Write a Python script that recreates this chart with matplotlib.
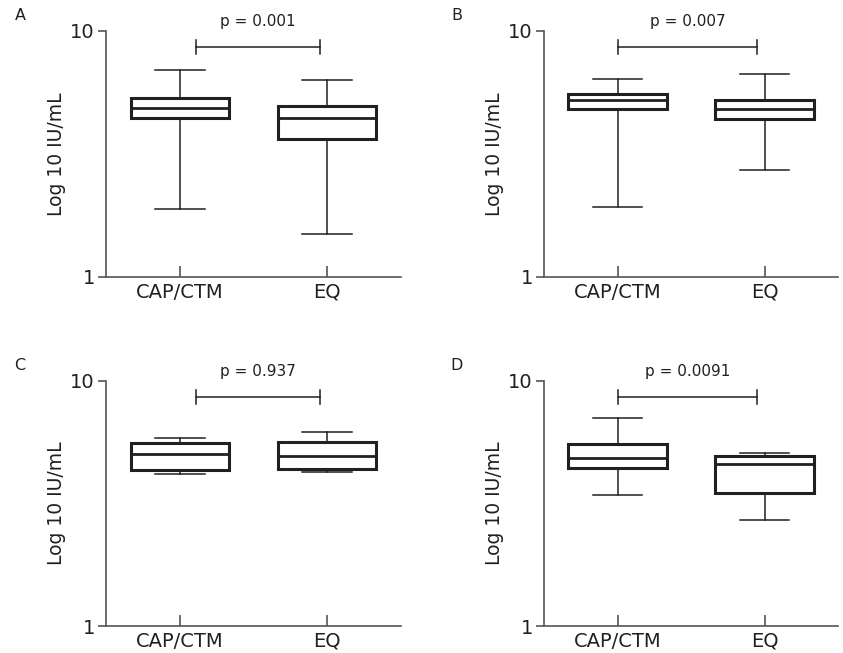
import matplotlib
matplotlib.use("Agg")
import matplotlib.pyplot as plt

matplotlib.rcParams['font.family'] = 'DejaVu Sans'

GROUPS = ['CAP/CTM', 'EQ']
PANELS = ['A', 'B', 'C', 'D']
P_TEXT = ['p = 0.001', 'p = 0.007', 'p = 0.937', 'p = 0.0091']

# whisker low, Q1, median, Q3, whisker high (IU/mL, log axis)
CAP_STATS = [
    [1.89, 4.42, 4.86, 5.34, 6.94],
    [1.93, 4.80, 5.23, 5.54, 6.36],
    [4.17, 4.32, 5.05, 5.58, 5.85],
    [3.43, 4.43, 4.85, 5.55, 7.06],
]
EQ_STATS = [
    [1.49, 3.65, 4.43, 4.96, 6.32],
    [2.72, 4.40, 4.83, 5.24, 6.69],
    [4.25, 4.37, 4.96, 5.64, 6.19],
    [2.72, 3.48, 4.57, 4.96, 5.10],
]
# significance bar x start / end, bar level
SIG_X = [(0.11, 0.95), (0.0, 0.95), (0.11, 0.95), (0.0, 0.95)]
SIG_Y = 8.6

DARK = '#231f20'
AXC = '#555555'

W, H = 843, 653
fig = plt.figure(figsize=(W / 100, H / 100), dpi=100)

# axes boxes in pixels: left, right, top, bottom
boxes = [(106, 401, 31, 277), (544, 838, 31, 277),
         (106, 401, 381, 626), (544, 838, 381, 626)]
label_pos = [(20, 16), (457, 16), (20, 366), (457, 366)]


def to_stats(v):
    lo, q1, med, q3, hi = v
    return dict(whislo=lo, q1=q1, med=med, q3=q3, whishi=hi, fliers=[])


for i, (l, r, t, b) in enumerate(boxes):
    ax = fig.add_axes([l / W, 1 - b / H, (r - l) / W, (b - t) / H])
    stats = [to_stats(CAP_STATS[i]), to_stats(EQ_STATS[i])]
    ax.bxp(stats, positions=[0, 1], widths=0.667, capwidths=0.34,
           showfliers=False, patch_artist=True,
           boxprops=dict(facecolor='white', edgecolor=DARK, linewidth=2.2),
           medianprops=dict(color=DARK, linewidth=2.0),
           whiskerprops=dict(color=DARK, linewidth=1.1),
           capprops=dict(color=DARK, linewidth=1.1))

    ax.set_yscale('log')
    ax.set_ylim(1, 10)
    ax.set_xlim(-0.5, 1.5)
    ax.set_yticks([1, 10])
    ax.set_yticklabels(['1', '10'])
    ax.yaxis.set_minor_locator(matplotlib.ticker.NullLocator())
    ax.set_xticks([0, 1])
    ax.set_xticklabels(GROUPS)

    ax.spines[['top', 'right']].set_visible(False)
    for s in ['left', 'bottom']:
        ax.spines[s].set_color(AXC)
        ax.spines[s].set_linewidth(1.2)
    ax.tick_params(axis='y', direction='out', length=6, width=1.2,
                   color=AXC, labelsize=14, labelcolor=DARK, pad=2)
    ax.tick_params(axis='x', direction='in', length=8, width=1.2,
                   color=AXC, labelsize=14, labelcolor=DARK, pad=4)
    ax.set_ylabel('Log 10 IU/mL', fontsize=13.5, color=DARK, labelpad=3)

    # significance bracket
    x0, x1 = SIG_X[i]
    ax.plot([x0, x1], [SIG_Y, SIG_Y], color=DARK, lw=1.1)
    ax.plot([x0, x0], [8.07, 9.22], color=DARK, lw=1.1)
    ax.plot([x1, x1], [8.07, 9.22], color=DARK, lw=1.1)
    ax.text((x0 + x1) / 2, 10.9, P_TEXT[i], ha='center', va='center',
            fontsize=11, color=DARK)

    lx, ly = label_pos[i]
    fig.text(lx / W, 1 - ly / H, PANELS[i], ha='center', va='center',
             fontsize=11.5, color=DARK)

fig.savefig('out.png', dpi=100)
